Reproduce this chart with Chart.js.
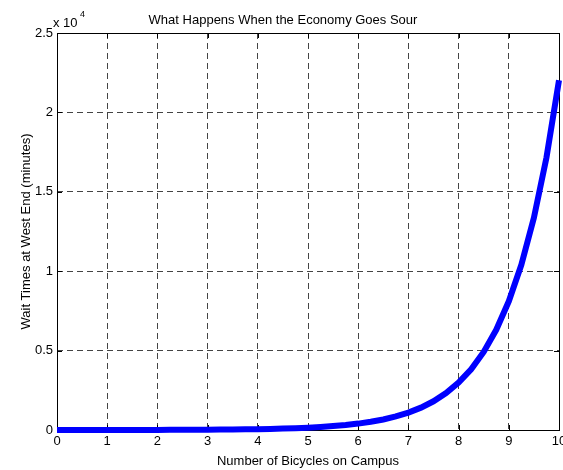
<!DOCTYPE html>
<html>
<head>
<meta charset="utf-8">
<script src="https://cdn.jsdelivr.net/npm/chart.js@4/dist/chart.umd.min.js"></script>
<style>
  html, body { margin: 0; padding: 0; background: #fff; }
  #wrap { width: 563px; height: 470px; }
</style>
</head>
<body>
<div id="wrap"><canvas id="grafico"></canvas></div>
<script>
// Dados
const bicicletas = [0, 0.25, 0.5, 0.75, 1, 1.25, 1.5, 1.75, 2, 2.25, 2.5, 2.75, 3, 3.25, 3.5, 3.75,
  4, 4.25, 4.5, 4.75, 5, 5.25, 5.5, 5.75, 6, 6.25, 6.5, 6.75, 7, 7.25, 7.5, 7.75,
  8, 8.25, 8.5, 8.75, 9, 9.25, 9.5, 9.75, 10];
const esperas = [1, 1, 2, 2, 3, 3, 4, 6, 7, 9, 12, 16, 20, 26, 33, 43,
  55, 70, 90, 116, 148, 191, 245, 314, 403, 518, 665, 854, 1097, 1408, 1808, 2322,
  2981, 3827, 4915, 6311, 8103, 10405, 13360, 17154, 22026];
const ticksX = [0, 1, 2, 3, 4, 5, 6, 7, 8, 9, 10];
const ticksY = [0, 5000, 10000, 15000, 20000, 25000];

const fonte = "'Liberation Sans', Arial, sans-serif";

// Moldura, marcas internas, título e fator x10^4
const molduraPlugin = {
    id: 'moldura',
    beforeDatasetsDraw(chart) {
        const { ctx, chartArea: a, scales } = chart;
        ctx.save();
        ctx.strokeStyle = '#000';
        ctx.lineWidth = 1;
        ctx.beginPath();
        ticksX.forEach(v => {
            const x = Math.round(scales.x.getPixelForValue(v)) + 0.5;
            ctx.moveTo(x, a.bottom); ctx.lineTo(x, a.bottom - 5);
            ctx.moveTo(x, a.top); ctx.lineTo(x, a.top + 5);
        });
        ticksY.forEach(v => {
            const y = Math.round(scales.y.getPixelForValue(v)) + 0.5;
            ctx.moveTo(a.left, y); ctx.lineTo(a.left + 5, y);
            ctx.moveTo(a.right, y); ctx.lineTo(a.right - 5, y);
        });
        ctx.stroke();
        ctx.strokeRect(Math.round(a.left) + 0.5, Math.round(a.top) + 0.5,
            Math.round(a.right - a.left), Math.round(a.bottom - a.top));
        ctx.restore();
    },
    afterDraw(chart) {
        const { ctx, chartArea: a } = chart;
        ctx.save();
        ctx.fillStyle = '#000';
        ctx.textBaseline = 'alphabetic';
        ctx.font = '13px ' + fonte;
        ctx.textAlign = 'center';
        ctx.fillText('What Happens When the Economy Goes Sour', 283, 24);
        ctx.textAlign = 'left';
        ctx.fillText('x 10', a.left - 4, 27);
        ctx.font = '9px ' + fonte;
        ctx.fillText('4', a.left + 23, 17);
        ctx.restore();
    }
};

new Chart(document.getElementById('grafico'), {
    type: 'line',
    data: {
        labels: bicicletas,
        datasets: [{
            data: bicicletas.map((b, i) => ({ x: b, y: esperas[i] })),
            borderColor: '#0000ff',
            borderWidth: 6,
            pointRadius: 0,
            tension: 0,
            fill: false,
            clip: false
        }]
    },
    options: {
        responsive: true,
        maintainAspectRatio: false,
        animation: false,
        layout: { padding: { top: 33, right: 4, left: 0, bottom: 0 } },
        plugins: {
            legend: { display: false },
            tooltip: { enabled: false }
        },
        scales: {
            x: {
                type: 'linear',
                min: 0,
                max: 10,
                afterBuildTicks: s => { s.ticks = ticksX.map(v => ({ value: v })); },
                afterFit: s => { s.height = 40; s.paddingRight = 0; s.paddingLeft = 0; },
                grid: { color: '#444', drawTicks: false },
                border: { display: false, dash: [6, 4] },
                ticks: { color: '#000', padding: 4, font: { family: fonte, size: 13 } },
                title: {
                    display: true,
                    text: 'Number of Bicycles on Campus',
                    color: '#000',
                    font: { family: fonte, size: 13 },
                    padding: { top: 0, bottom: 1 }
                }
            },
            y: {
                type: 'linear',
                min: 0,
                max: 25000,
                afterBuildTicks: s => { s.ticks = ticksY.map(v => ({ value: v })); },
                afterFit: s => { s.width = 57; },
                grid: { color: '#444', drawTicks: false },
                border: { display: false, dash: [6, 4] },
                ticks: {
                    color: '#000',
                    padding: 4,
                    font: { family: fonte, size: 13 },
                    callback: v => v / 10000
                },
                title: {
                    display: true,
                    text: 'Wait Times at West End (minutes)',
                    color: '#000',
                    font: { family: fonte, size: 13 },
                    padding: { top: 19, bottom: 0 }
                }
            }
        }
    },
    plugins: [molduraPlugin]
});
</script>
</body>
</html>
